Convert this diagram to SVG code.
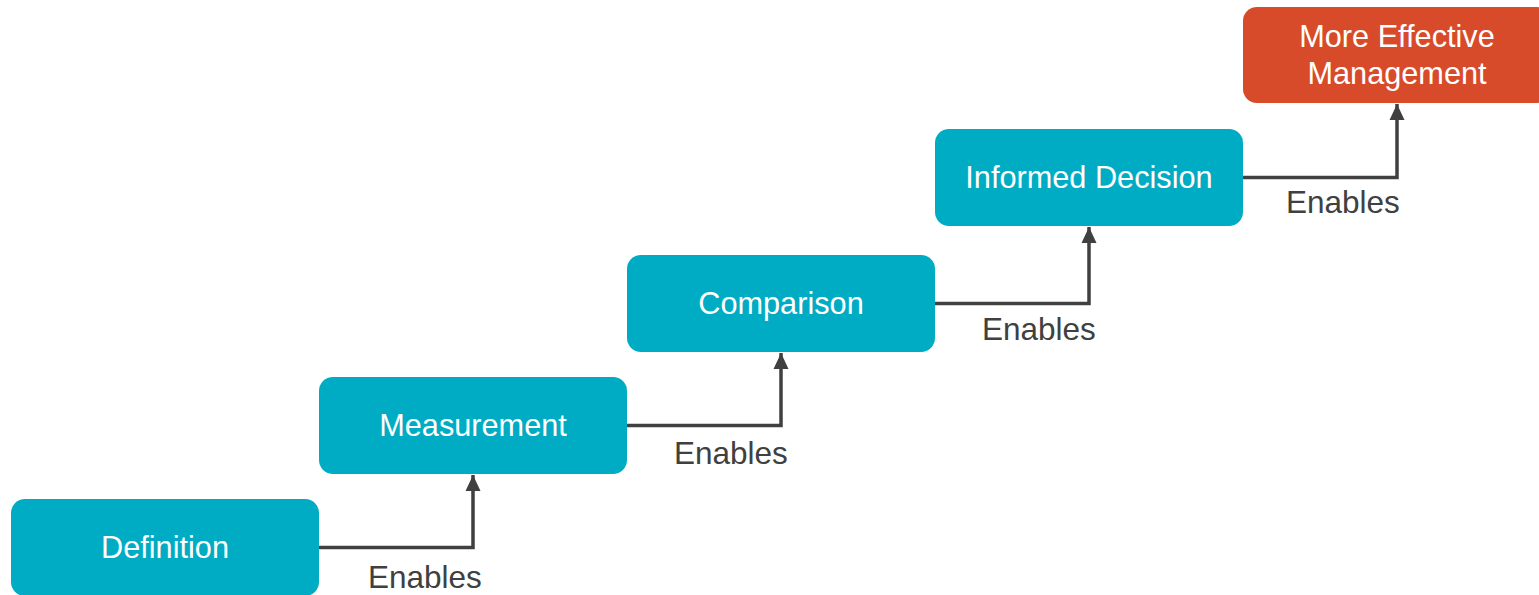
<svg xmlns="http://www.w3.org/2000/svg" width="1539" height="595" viewBox="0 0 1539 595">
  <style>
    .box { fill: #00acc3; }
    .goal { fill: #d84b2a; }
    .label { font-family: "Liberation Sans", Arial, sans-serif; font-size: 30.7px; fill: #ffffff; text-anchor: middle; }
    .edge { fill: none; stroke: #404040; stroke-width: 3.5; }
    .edge-label { font-family: "Liberation Sans", Arial, sans-serif; font-size: 31.5px; fill: #404040; }
  </style>
  <defs>
    <marker id="arrow" viewBox="0 0 16 16" refX="16" refY="8" markerWidth="16" markerHeight="16" orient="auto" markerUnits="userSpaceOnUse">
      <path d="M0,0.5 L16,8 L0,15.5 z" fill="#404040"/>
    </marker>
  </defs>
  <rect width="1539" height="595" fill="#ffffff"/>

  <g id="definition">
    <rect class="box" x="11" y="499" width="308" height="97" rx="14"/>
    <text class="label" x="165" y="558">Definition</text>
  </g>
  <g id="measurement">
    <rect class="box" x="319" y="377" width="308" height="97" rx="14"/>
    <text class="label" x="473" y="436">Measurement</text>
  </g>
  <g id="comparison">
    <rect class="box" x="627" y="255" width="308" height="97" rx="14"/>
    <text class="label" x="781" y="314">Comparison</text>
  </g>
  <g id="informed-decision">
    <rect class="box" x="935" y="129" width="308" height="97" rx="14"/>
    <text class="label" x="1089" y="188">Informed Decision</text>
  </g>
  <g id="more-effective-management">
    <rect class="goal" x="1243" y="7" width="308" height="96" rx="14"/>
    <text class="label" x="1397" y="47">More Effective</text>
    <text class="label" x="1397" y="84">Management</text>
  </g>

  <g id="connectors">
    <path class="edge" d="M319,547.5 H473 V475" marker-end="url(#arrow)"/>
    <path class="edge" d="M627,425.5 H781 V353" marker-end="url(#arrow)"/>
    <path class="edge" d="M935,303.5 H1089 V227" marker-end="url(#arrow)"/>
    <path class="edge" d="M1243,177.5 H1397 V104" marker-end="url(#arrow)"/>
    <text class="edge-label" x="368" y="588">Enables</text>
    <text class="edge-label" x="674" y="464">Enables</text>
    <text class="edge-label" x="982" y="340">Enables</text>
    <text class="edge-label" x="1286" y="213">Enables</text>
  </g>
</svg>
